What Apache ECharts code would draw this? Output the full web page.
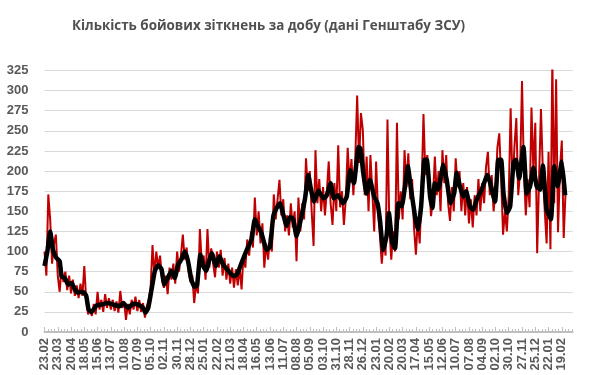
<!DOCTYPE html>
<html>
<head>
<meta charset="utf-8">
<script src="https://cdn.jsdelivr.net/npm/echarts@6/dist/echarts.min.js"></script>
<style>
html,body{margin:0;padding:0;background:#fff;}
#chart{width:590px;height:375px;}
</style>
</head>
<body>
<div id="chart"></div>
<script>
// Title
const chartTitle = "Кількість бойових зіткнень за добу (дані Генштабу ЗСУ)";
// Daily categories start date (year, month, day) and count (dd.mm labels)
const startDate = [2023, 2, 23];
const dayCount = 1116;
const labelEvery = 28;
const minorTickEvery = 7;
// Y axis ticks
const yMin = 0, yMax = 325, yStep = 25;

// Daily values (red), read every 4 days from day 0
const dailyStep = 4;
const dailyValues = [
100,70,171,140,85,110,121,70,50,80,62,75,52,70,48,65,45,58,42,60,45,82,40,22,28,20,
35,22,50,28,40,25,47,30,42,28,40,26,38,24,51,30,38,15,35,22,40,28,44,26,40,25,36,18,32,40,
55,108,70,100,80,95,65,55,70,47,80,65,85,60,100,75,95,121,90,105,75,62,70,36,60,48,128,85,95,65,128,80,104,85,68,100,80,
102,70,92,65,85,60,80,55,78,58,80,53,95,80,115,95,125,105,167,120,150,110,135,80,110,90,120,100,171,140,165,189,145,165,125,145,120,160,130,150,88,167,125,
160,140,216,175,200,150,107,226,160,190,150,180,145,175,212,160,133,185,150,232,155,175,133,165,229,185,215,170,215,294,210,272,251,170,218,150,220,175,125,212,
150,120,85,115,95,264,130,90,125,100,260,140,175,140,226,180,222,165,190,130,96,140,110,175,271,195,220,180,144,165,218,170,200,150,
226,185,220,160,138,180,150,216,180,200,150,185,145,180,135,165,130,170,145,190,150,185,160,205,224,170,195,150,175,229,247,190,121,150,
125,170,278,180,230,266,170,200,312,200,145,190,155,279,200,260,98,190,277,200,150,110,224,103,339,160,314,124,200,238,117,175
];

// Moving average (black), read at these day indices
const maDays = [0,6,12,18,25,32,36,43,50,57,64,71,81,88,93,99,110,120,134,145,159,166,176,187,198,208,213,219,226,233,240,247,253,260,268,275,282,289,296,303,310,317,322,329,335,341,348,353,362,369,377,388,398,406,416,427,437,444,451,458,469,476,483,490,497,504,511,518,525,532,543,550,557,562,569,578,589,596,604,611,620,630,638,645,653,663,667,673,680,687,696,703,708,715,722,727,734,740,747,754,761,767,773,782,788,795,802,807,814,819,824,831,842,849,857,865,870,877,884,890,898,905,912,923,935,940,951,958,964,969,976,983,990,995,1002,1011,1018,1025,1032,1039,1046,1052,1060,1069,1076,1083,1092,1099];
const maValues = [82,100,125,102,92,88,69,67,59,61,53,49,50,45,28,25,33,34,36,34,32,36,30,35,34,30,24,30,53,76,83,78,59,67,76,67,84,90,100,88,65,56,58,96,82,76,90,98,82,94,84,76,70,71,86,102,115,140,131,123,102,106,144,154,160,146,132,143,140,119,145,166,195,179,162,176,166,170,185,166,170,160,168,201,185,230,228,197,172,189,168,160,140,102,119,148,111,104,160,156,181,206,181,144,127,156,214,214,168,154,185,177,208,189,160,173,198,181,168,175,156,152,164,177,195,187,162,214,214,172,148,156,210,214,191,230,172,181,204,181,177,207,152,140,206,181,212,170];

// Build categories
const categories = [];
for (let i = 0; i < dayCount; i++) {
  const d = new Date(Date.UTC(startDate[0], startDate[1] - 1, startDate[2] + i));
  const dd = String(d.getUTCDate()).padStart(2, '0');
  const mm = String(d.getUTCMonth() + 1).padStart(2, '0');
  categories.push(dd + '.' + mm);
}
const redData = dailyValues.map((v, i) => [i * dailyStep, v]);
const blackData = maDays.map((d, i) => [d, maValues[i]]);

const axisFont = {fontFamily: 'Liberation Sans', fontSize: 13, color: '#595959', fontWeight: 'bold'};

const chart = echarts.init(document.getElementById('chart'), null, {renderer: 'canvas'});
chart.setOption({
  animation: false,
  backgroundColor: '#ffffff',
  title: {
    text: chartTitle,
    left: 67, top: 15,
    textStyle: {fontFamily: 'Open Sans', fontSize: 13.4, fontWeight: 'bold', color: '#505050'}
  },
  grid: {left: 44.5, right: 17.3, top: 70.5, bottom: 43, containLabel: false},
  xAxis: [{
    type: 'category',
    data: categories,
    boundaryGap: false,
    position: 'bottom',
    axisLine: {lineStyle: {color: '#bfbfbf', width: 2}},
    axisTick: {show: true, inside: true, interval: minorTickEvery - 1, length: 3, lineStyle: {color: '#bfbfbf'}},
    axisLabel: Object.assign({interval: labelEvery - 1, rotate: 90, margin: 6}, axisFont),
    splitLine: {show: false}
  }, {
    type: 'category',
    data: categories,
    boundaryGap: false,
    position: 'bottom',
    axisLine: {show: false},
    axisTick: {show: true, inside: true, interval: labelEvery - 1, length: 5, lineStyle: {color: '#bfbfbf'}},
    axisLabel: {show: false},
    splitLine: {show: false}
  }],
  yAxis: {
    type: 'value', min: yMin, max: yMax, interval: yStep,
    axisLine: {show: false}, axisTick: {show: false},
    axisLabel: Object.assign({margin: 16}, axisFont),
    splitLine: {lineStyle: {color: '#d9d9d9', width: 1}}
  },
  series: [
    {type: 'line', data: redData, showSymbol: false, symbol: 'none',
     lineStyle: {color: '#c00000', width: 2}, z: 2},
    {type: 'line', data: blackData, showSymbol: false, symbol: 'none', smooth: 0.15,
     lineStyle: {color: '#000000', width: 4.5}, z: 3}
  ]
});
</script>
</body>
</html>
